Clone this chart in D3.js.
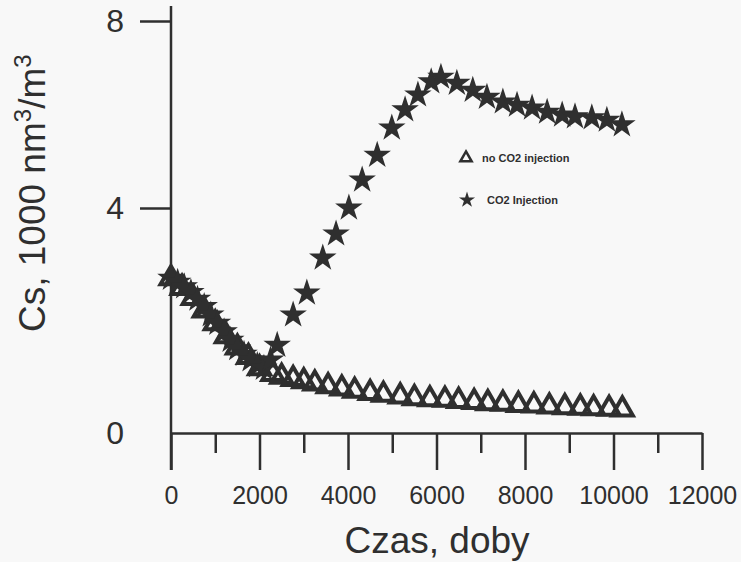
<!DOCTYPE html>
<html>
<head>
<meta charset="utf-8">
<script src="https://cdn.jsdelivr.net/npm/d3@7"></script>
<style>
    body { margin: 0; background: #f8f8f8; }
    svg { display: block; font-family: "Liberation Sans", Arial, sans-serif; }
</style>
</head>
<body>
<div id="chart"></div>
<script>
// Days (Czas, doby) and Cs values
const starDays = [0, 150, 300, 450, 600, 750, 900, 1050, 1200, 1350, 1500, 1650, 1800, 1950, 2100, 2250,
    2400, 2760, 3070, 3430, 3730, 4020, 4320, 4660, 4990, 5290, 5580, 5880, 6100,
    6460, 6820, 7140, 7500, 7820, 8160, 8500, 8840, 9130, 9510, 9850, 10190];
const starValues = [2.75, 2.68, 2.6, 2.5, 2.38, 2.25, 2.1, 1.95, 1.8, 1.65, 1.5, 1.4, 1.3, 1.2, 1.15, 1.3,
    1.56, 2.1, 2.49, 3.11, 3.54, 4.0, 4.6, 5.13, 5.71, 6.1, 6.42, 6.7, 6.8,
    6.67, 6.52, 6.37, 6.27, 6.2, 6.14, 6.05, 5.99, 5.95, 5.93, 5.88, 5.78];

const triDays = [0, 250, 500, 750, 1000, 1250, 1500, 1750, 2000, 2300, 2500, 2760, 3000, 3250, 3550,
    3860, 4150, 4500, 4800, 5180, 5500, 5850, 6190, 6500, 6850, 7160, 7500, 7850, 8200, 8550,
    8900, 9250, 9550, 9900, 10200];
const triValues = [2.75, 2.58, 2.4, 2.18, 1.95, 1.72, 1.52, 1.35, 1.15, 1.05, 1.0, 0.96, 0.92, 0.88, 0.83,
    0.79, 0.75, 0.71, 0.68, 0.65, 0.62, 0.6, 0.59, 0.57, 0.55, 0.53, 0.52, 0.5, 0.49, 0.47,
    0.46, 0.45, 0.44, 0.43, 0.42];

const xMajorTicks = [0, 2000, 4000, 6000, 8000, 10000, 12000];
const xMinorTicks = [1000, 3000, 5000, 7000, 9000, 11000];
const yTicks = [0, 4, 8];

const legendLabels = ["no CO2 injection", "CO2 Injection"];

const ink = "#2f2f2f";

const svg = d3.select("#chart").append("svg")
    .attr("width", 741)
    .attr("height", 562);

// the scan is slightly stretched, so the y scale is piecewise
const x = d3.scaleLinear().domain([0, 12000]).range([171, 702]);
const y = d3.scaleLinear().domain([0, 4, 8]).range([433, 208, 21]);

// x axis: major and minor ticks hang below the line
const xAxis = svg.append("g")
    .attr("transform", `translate(0, ${y(0)})`)
    .call(d3.axisBottom(x).tickValues(xMajorTicks).tickSize(37).tickSizeOuter(0).tickPadding(16).tickFormat(d3.format("d")));
xAxis.select(".domain").attr("stroke", ink).attr("stroke-width", 2.5);
xAxis.selectAll(".tick line").attr("stroke", ink).attr("stroke-width", 2.5);
xAxis.selectAll(".tick text").attr("fill", ink).attr("font-size", 25);

const xMinor = svg.append("g")
    .attr("transform", `translate(0, ${y(0)})`)
    .call(d3.axisBottom(x).tickValues(xMinorTicks).tickSize(20).tickFormat(""));
xMinor.select(".domain").remove();
xMinor.selectAll(".tick line").attr("stroke", ink).attr("stroke-width", 2.5);

// y axis
const yAxis = svg.append("g")
    .attr("transform", `translate(${x(0)}, 0)`)
    .call(d3.axisLeft(y).tickValues(yTicks).tickSize(31).tickPadding(16));
yAxis.select(".domain").remove();
yAxis.selectAll(".tick line")
    .attr("stroke", ink).attr("stroke-width", 2.5)
    .filter(d => d === 0).remove();
yAxis.selectAll(".tick text").attr("fill", ink).attr("font-size", 32);

svg.append("line")
    .attr("x1", x(0)).attr("x2", x(0))
    .attr("y1", y(8) - 15).attr("y2", y(0) + 37)
    .attr("stroke", ink).attr("stroke-width", 2.5);

// axis titles
svg.append("text")
    .attr("x", 437).attr("y", 553)
    .attr("text-anchor", "middle")
    .attr("font-size", 37)
    .attr("fill", ink)
    .text("Czas, doby");

const yTitle = svg.append("text")
    .attr("transform", "translate(45, 332) rotate(-90)")
    .attr("font-size", 37)
    .attr("fill", ink);
yTitle.append("tspan").text("Cs, 1000 nm");
yTitle.append("tspan").attr("font-size", 24).attr("dy", -14).text("3");
yTitle.append("tspan").attr("dy", 14).text("/m");
yTitle.append("tspan").attr("font-size", 24).attr("dy", -14).text("3");

// series
const triangle = d3.symbol().type(d3.symbolTriangle).size(190);
const star = d3.symbol().type(d3.symbolStar).size(235);

svg.append("g")
    .selectAll("path")
    .data(triDays.map((d, i) => [d, triValues[i]]))
    .join("path")
    .attr("transform", d => `translate(${x(d[0])}, ${y(d[1])})`)
    .attr("d", triangle)
    .attr("fill", "none")
    .attr("stroke", ink)
    .attr("stroke-width", 4);

svg.append("g")
    .selectAll("path")
    .data(starDays.map((d, i) => [d, starValues[i]]))
    .join("path")
    .attr("transform", d => `translate(${x(d[0])}, ${y(d[1])})`)
    .attr("d", star)
    .attr("fill", ink);

// legend
const legend = svg.append("g").attr("transform", "translate(466, 158)");
legend.append("path")
    .attr("d", d3.symbol().type(d3.symbolTriangle).size(55))
    .attr("fill", "none").attr("stroke", ink).attr("stroke-width", 2.5);
legend.append("text")
    .attr("x", 16).attr("y", 4)
    .attr("font-size", 11).attr("font-weight", "bold").attr("fill", ink)
    .text(legendLabels[0]);
legend.append("path")
    .attr("transform", "translate(1, 42)")
    .attr("d", d3.symbol().type(d3.symbolStar).size(80))
    .attr("fill", ink);
legend.append("text")
    .attr("x", 21).attr("y", 46)
    .attr("font-size", 11).attr("font-weight", "bold").attr("fill", ink)
    .text(legendLabels[1]);
</script>
</body>
</html>
